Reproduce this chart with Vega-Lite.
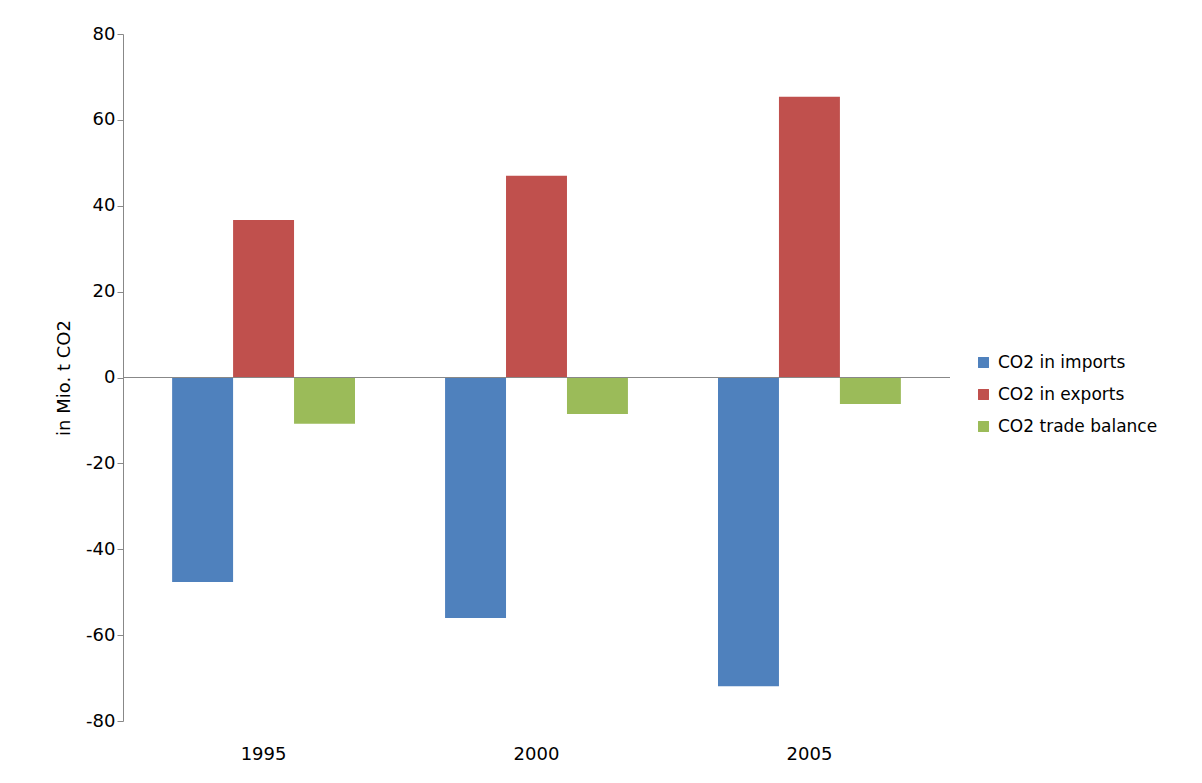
{
  "$schema": "https://vega.github.io/schema/vega-lite/v6.json",
  "width": 827,
  "height": 687,
  "autosize": "none",
  "padding": {"left": 123, "top": 34, "right": 252, "bottom": 62},
  "background": "white",
  "config": {
    "view": {"stroke": null},
    "font": "DejaVu Sans",
    "axis": {"labelFont": "DejaVu Sans", "titleFont": "DejaVu Sans", "labelColor": "#000", "titleColor": "#000", "grid": false, "domainColor": "#888", "tickColor": "#888"}
  },
  "data": {
    "values": [
      {"year": "1995", "series": "CO2 in imports", "value": -47.6},
      {"year": "1995", "series": "CO2 in exports", "value": 36.7},
      {"year": "1995", "series": "CO2 trade balance", "value": -10.8},
      {"year": "2000", "series": "CO2 in imports", "value": -56.0},
      {"year": "2000", "series": "CO2 in exports", "value": 47.0},
      {"year": "2000", "series": "CO2 trade balance", "value": -8.5},
      {"year": "2005", "series": "CO2 in imports", "value": -71.9},
      {"year": "2005", "series": "CO2 in exports", "value": 65.4},
      {"year": "2005", "series": "CO2 trade balance", "value": -6.2}
    ]
  },
  "layer": [
    {
      "mark": {"type": "bar"},
      "encoding": {
        "x": {"field": "year", "type": "nominal", "scale": {"paddingInner": 0.33, "paddingOuter": 0.18},
          "axis": {"title": null, "labelAngle": 0, "labelFontSize": 18, "domain": false, "ticks": false, "labelPadding": 24}},
        "xOffset": {"field": "series", "sort": ["CO2 in imports", "CO2 in exports", "CO2 trade balance"]},
        "y": {"field": "value", "type": "quantitative", "scale": {"domain": [-80, 80]},
          "axis": {"title": "in Mio. t CO2", "values": [-80, -60, -40, -20, 0, 20, 40, 60, 80], "labelExpr": "replace(datum.label, '−', '-')", "labelFontSize": 18, "titleFontSize": 18, "titleFontWeight": "normal", "tickSize": 6, "titlePadding": 12}},
        "color": {"field": "series", "type": "nominal", "sort": ["CO2 in imports", "CO2 in exports", "CO2 trade balance"],
          "scale": {"range": ["#4f81bd", "#c0504d", "#9bbb59"]},
          "legend": {"title": null, "orient": "none", "legendX": 852, "legendY": 320, "symbolType": "square", "symbolSize": 120, "symbolStrokeWidth": 0, "labelFontSize": 17, "labelLimit": 300, "labelOffset": 6, "rowPadding": 14, "padding": 0}}
      }
    },
    {
      "data": {"values": [{"z": 0}]},
      "mark": {"type": "rule", "color": "#888"},
      "encoding": {"y": {"field": "z", "type": "quantitative"}}
    }
  ]
}
